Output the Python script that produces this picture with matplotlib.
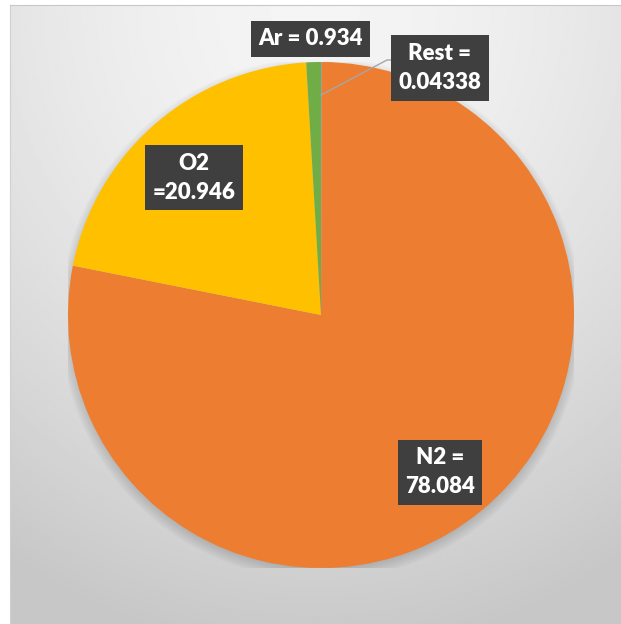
import matplotlib.pyplot as plt
from matplotlib.patches import Circle
import numpy as np

# atmospheric composition, percent by volume
gases = ['Rest', 'N2', 'O2', 'Ar']
values = [0.04338, 78.084, 20.946, 0.934]
colors = ['#5B9BD5', '#ED7D31', '#FFC000', '#70AD47']
label_fmt = ['{0} =\n{1}', '{0} =\n{1}', '{0}\n={1}', '{0} = {1}']
label_pos = [(0.470, 0.976), (0.470, -0.621), (-0.502, 0.542), (-0.043, 1.091)]

W, H = 621, 624
fig = plt.figure(figsize=(W / 100, H / 100), dpi=100)
fig.patch.set_facecolor('white')

# grey backdrop, light at the top fading darker toward the bottom
bg = fig.add_axes([10 / W, 0, (W - 10) / W, (H - 5) / H])
yy, xx = np.mgrid[0:1:300j, 0:1:300j]
d = np.sqrt(((xx - 0.5) * 1.1) ** 2 + (yy * 1.0) ** 2)
d = np.clip(d / 1.05, 0, 1)
shade = 0.96 - 0.18 * d ** 1.6
bg.imshow(shade, cmap='gray', vmin=0, vmax=1, aspect='auto',
          extent=[0, 1, 1, 0], interpolation='bilinear')
bg.set_xticks([])
bg.set_yticks([])
for s in bg.spines.values():
    s.set_visible(False)
bg.spines['top'].set_visible(True)
bg.spines['top'].set_color('#c8c8c8')
bg.spines['left'].set_visible(True)
bg.spines['left'].set_color('#d0d0d0')

cx, cy, r = 321, 315, 253
ax = fig.add_axes([(cx - r) / W, (H - cy - r) / H, 2 * r / W, 2 * r / H])

# soft shadow under the pie
for k in range(8):
    ax.add_patch(Circle((0, -0.015), 0.99 + 0.006 * k, color='black',
                        alpha=0.02, lw=0, zorder=0))

wedges, _ = ax.pie(values, colors=colors, startangle=90, counterclock=False,
                   radius=1.0, wedgeprops=dict(linewidth=0))
for w in wedges:
    w.set_zorder(2)
ax.set_xlim(-1, 1)
ax.set_ylim(-1, 1)
ax.axis('off')

for i, g in enumerate(gases):
    txt = label_fmt[i].format(g, values[i])
    x, y = label_pos[i]
    ax.text(x, y, txt, ha='center', va='center', color='white',
            fontsize=16, fontweight='heavy', family='Lato', linespacing=1.5,
            zorder=5, clip_on=False,
            bbox=dict(boxstyle='square,pad=0.33', fc='#3f3f3f', ec='none'))

# leader line from the tiny slice to its label
w0 = wedges[0]
mid = np.deg2rad((w0.theta1 + w0.theta2) / 2)
p0 = (0.87 * np.cos(mid), 0.87 * np.sin(mid))
ax.plot([p0[0], 0.261, 0.28], [p0[1], 1.008, 1.008], color='#a6a6a6',
        lw=1.0, zorder=4, clip_on=False)

fig.savefig('out.png', dpi=100)
